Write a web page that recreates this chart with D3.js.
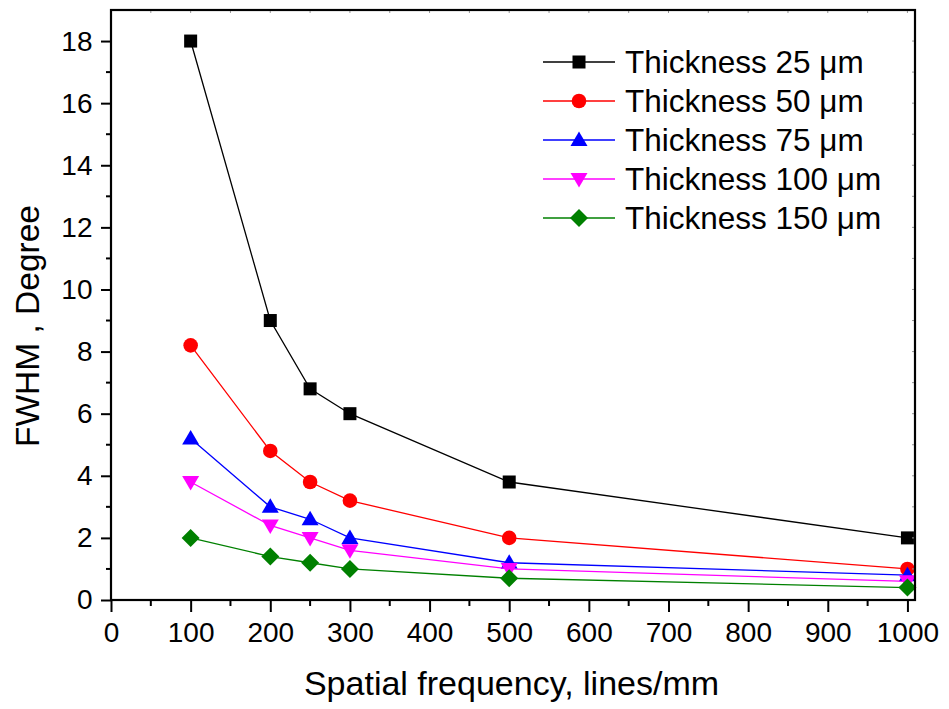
<!DOCTYPE html>
<html>
<head>
<meta charset="utf-8">
<script src="https://cdn.jsdelivr.net/npm/d3@7"></script>
<style>
  html, body { margin: 0; padding: 0; background: #fff; }
  svg { display: block; font-family: "Liberation Sans", Arial, sans-serif; }
</style>
</head>
<body>
<svg id="chart" width="949" height="709"></svg>
<script>
// Spatial frequency (lines/mm)
const frequencies = [100, 200, 250, 300, 500, 1000];

// FWHM (degrees) for each emulsion thickness
const fwhm25  = [18, 9, 6.8, 6, 3.8, 2];
const fwhm50  = [8.2, 4.8, 3.8, 3.2, 2, 1.0];
const fwhm75  = [5.2, 3.0, 2.6, 2.0, 1.2, 0.8];
const fwhm100 = [3.8, 2.4, 2.0, 1.6, 1.0, 0.6];
const fwhm150 = [2.0, 1.4, 1.2, 1.0, 0.7, 0.4];

const seriesNames = ["Thickness 25 μm", "Thickness 50 μm", "Thickness 75 μm", "Thickness 100 μm", "Thickness 150 μm"];
const xTickValues = [0, 100, 200, 300, 400, 500, 600, 700, 800, 900, 1000];
const yTickValues = [0, 2, 4, 6, 8, 10, 12, 14, 16, 18];

const series = [
  { name: seriesNames[0], values: fwhm25,  color: "#000000", symbol: "square" },
  { name: seriesNames[1], values: fwhm50,  color: "#ff0000", symbol: "circle" },
  { name: seriesNames[2], values: fwhm75,  color: "#0000ff", symbol: "triangle" },
  { name: seriesNames[3], values: fwhm100, color: "#ff00ff", symbol: "triangleDown" },
  { name: seriesNames[4], values: fwhm150, color: "#008000", symbol: "diamond" }
];

const svg = d3.select("#chart");
const plot = { left: 111, right: 915, top: 10, bottom: 600 };
const FONT = "'Liberation Sans', Arial, sans-serif";

const x = d3.scaleLinear().domain([0, 1009.5]).range([plot.left, plot.right]);
const y = d3.scaleLinear().domain([0, 19]).range([plot.bottom, plot.top]);

// Marker shapes
function drawMarker(g, symbol, cx, cy, color) {
  if (symbol === "square") {
    g.append("rect").attr("x", cx - 6.5).attr("y", cy - 6.5).attr("width", 13).attr("height", 13).attr("fill", color);
  } else if (symbol === "circle") {
    g.append("circle").attr("cx", cx).attr("cy", cy).attr("r", 7.3).attr("fill", color);
  } else if (symbol === "triangle") {
    g.append("path").attr("d", `M${cx},${cy - 8.5}L${cx + 8.5},${cy + 6}L${cx - 8.5},${cy + 6}Z`).attr("fill", color);
  } else if (symbol === "triangleDown") {
    g.append("path").attr("d", `M${cx},${cy + 8.5}L${cx + 8.5},${cy - 6}L${cx - 8.5},${cy - 6}Z`).attr("fill", color);
  } else if (symbol === "diamond") {
    g.append("path").attr("d", `M${cx},${cy - 9}L${cx + 9},${cy}L${cx},${cy + 9}L${cx - 9},${cy}Z`).attr("fill", color);
  }
}

// Series lines and markers
const line = d3.line().x((d, i) => x(frequencies[i])).y(d => y(d));
series.forEach(s => {
  svg.append("path").datum(s.values)
    .attr("d", line).attr("fill", "none")
    .attr("stroke", s.color).attr("stroke-width", 1.3);
  const g = svg.append("g");
  s.values.forEach((v, i) => drawMarker(g, s.symbol, x(frequencies[i]), y(v), s.color));
});

// Bottom axis
const xAxis = d3.axisBottom(x).tickValues(xTickValues).tickFormat(d3.format("d"))
  .tickSize(12).tickSizeOuter(0).tickPadding(10);
const gx = svg.append("g").attr("transform", `translate(0,${plot.bottom})`).call(xAxis);
gx.select(".domain").remove();
gx.selectAll(".tick line").attr("stroke-width", 2);
gx.selectAll(".tick text").attr("font-size", 28).attr("fill", "#000").attr("font-family", FONT);
const xMinor = d3.range(50, 1000, 100);
gx.selectAll(".minor").data(xMinor).enter().append("line")
  .attr("x1", d => x(d)).attr("x2", d => x(d)).attr("y1", 0).attr("y2", 6)
  .attr("stroke", "#000").attr("stroke-width", 2);

// Left axis
const yAxis = d3.axisLeft(y).tickValues(yTickValues).tickFormat(d3.format("d"))
  .tickSize(10).tickSizeOuter(0).tickPadding(8.5);
const gy = svg.append("g").attr("transform", `translate(${plot.left},0)`).call(yAxis);
gy.select(".domain").remove();
gy.selectAll(".tick line").attr("stroke-width", 2);
gy.selectAll(".tick text").attr("font-size", 28).attr("fill", "#000").attr("font-family", FONT);
const yMinor = d3.range(1, 19, 2);
gy.selectAll(".minor").data(yMinor).enter().append("line")
  .attr("x1", 0).attr("x2", -5).attr("y1", d => y(d)).attr("y2", d => y(d))
  .attr("stroke", "#000").attr("stroke-width", 2);

// Mirror ticks on top and right edges
const topTicks = d3.range(50, 1001, 50);
svg.append("g").selectAll("line").data(topTicks).enter().append("line")
  .attr("x1", d => x(d)).attr("x2", d => x(d)).attr("y1", plot.top).attr("y2", plot.top + 3)
  .attr("stroke", "#999").attr("stroke-width", 1);
const rightTicks = d3.range(1, 19, 1);
svg.append("g").selectAll("line").data(rightTicks).enter().append("line")
  .attr("x1", plot.right).attr("x2", plot.right - 3).attr("y1", d => y(d)).attr("y2", d => y(d))
  .attr("stroke", "#999").attr("stroke-width", 1);

// Frame
svg.append("rect")
  .attr("x", plot.left).attr("y", plot.top)
  .attr("width", plot.right - plot.left).attr("height", plot.bottom - plot.top)
  .attr("fill", "none").attr("stroke", "#000").attr("stroke-width", 2.2);

// Axis titles
svg.append("text")
  .attr("x", 511.5).attr("y", 695)
  .attr("text-anchor", "middle").attr("font-size", 34).attr("fill", "#000")
  .text("Spatial frequency, lines/mm");
svg.append("text")
  .attr("transform", "translate(39,326) rotate(-90)")
  .attr("text-anchor", "middle").attr("font-size", 33.5).attr("fill", "#000")
  .text("FWHM , Degree");

// Legend
const legend = svg.append("g").attr("transform", "translate(543,62)");
series.forEach((s, i) => {
  const row = legend.append("g").attr("transform", `translate(0,${i * 39})`);
  row.append("line").attr("x1", 0).attr("x2", 72).attr("y1", 0).attr("y2", 0)
    .attr("stroke", s.color).attr("stroke-width", 1.3);
  drawMarker(row, s.symbol, 36, 0, s.color);
  row.append("text").attr("x", 82).attr("y", 11)
    .attr("font-size", 31.5).attr("fill", "#000").text(s.name);
});
</script>
</body>
</html>
